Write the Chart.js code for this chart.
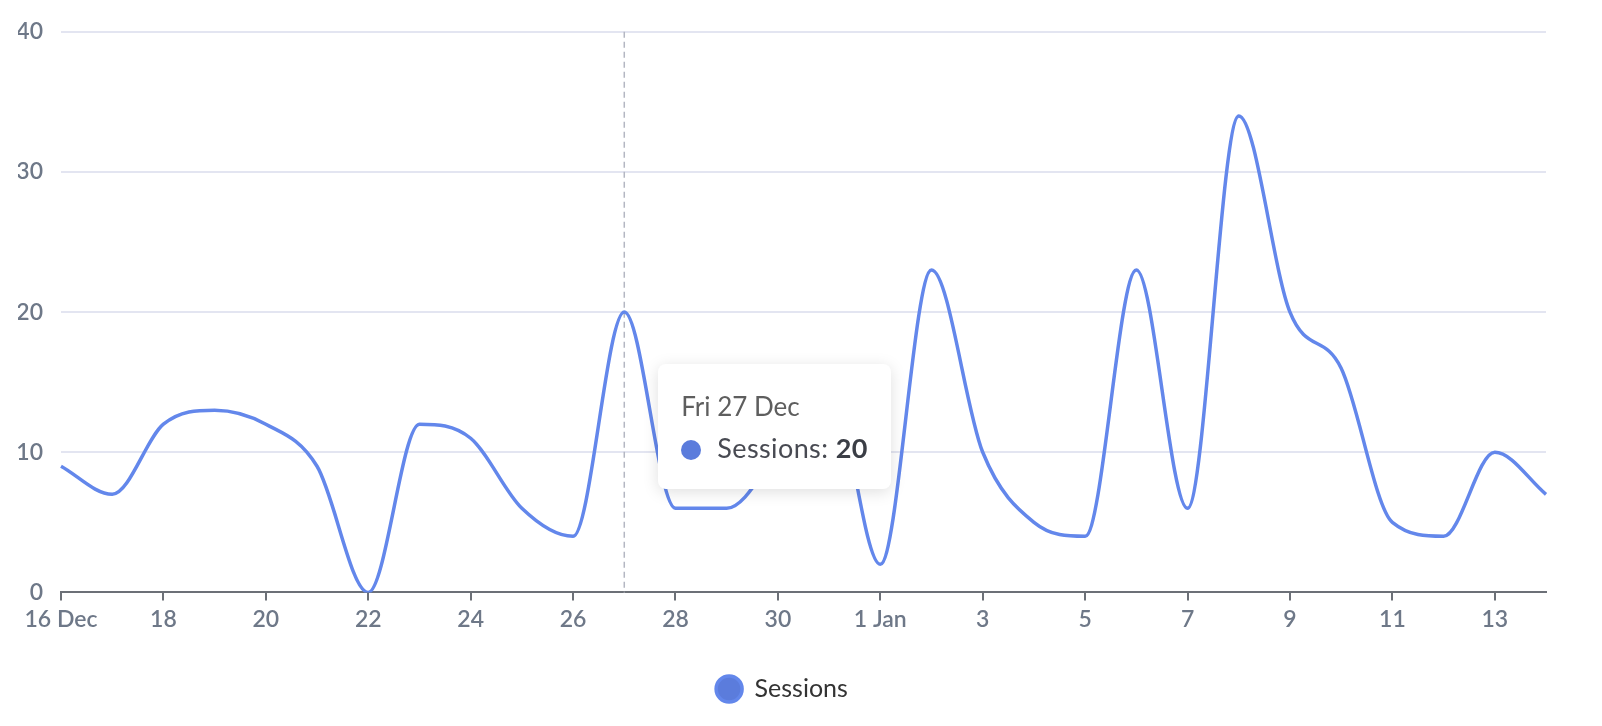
<!DOCTYPE html>
<html>
<head>
<meta charset="utf-8">
<script src="https://cdn.jsdelivr.net/npm/chart.js@4.4.1/dist/chart.umd.min.js"></script>
<style>
  html, body { margin: 0; padding: 0; background: #fff; }
  #wrap { position: relative; width: 1602px; height: 726px; }
  #tip {
    position: absolute; pointer-events: none; opacity: 0;
    background: #fff; border-radius: 8px;
    box-shadow: 0 3px 16px rgba(0, 0, 0, 0.13);
    padding: 26px 23px 25px 23px;
    font-family: Lato, sans-serif; white-space: nowrap;
  }
  #tip .t { font-size: 26px; line-height: 32px; color: #5e5e5e; margin-bottom: 10px; }
  #tip .b { font-size: 27px; line-height: 32px; color: #484a52; letter-spacing: 0.4px; }
  #tip .b i { display: inline-block; width: 20px; height: 20px; border-radius: 50%;
              margin-right: 16px; vertical-align: -2px; }
  #tip .b strong { color: #3b3e46; }
</style>
</head>
<body>
<div id="wrap">
  <canvas id="chart"></canvas>
  <div id="tip"></div>
</div>
<script>
// one entry per day, 16 Dec - 14 Jan
const days = [
  'Mon 16 Dec', 'Tue 17 Dec', 'Wed 18 Dec', 'Thu 19 Dec', 'Fri 20 Dec', 'Sat 21 Dec', 'Sun 22 Dec',
  'Mon 23 Dec', 'Tue 24 Dec', 'Wed 25 Dec', 'Thu 26 Dec', 'Fri 27 Dec', 'Sat 28 Dec', 'Sun 29 Dec',
  'Mon 30 Dec', 'Tue 31 Dec', 'Wed 1 Jan', 'Thu 2 Jan', 'Fri 3 Jan', 'Sat 4 Jan', 'Sun 5 Jan',
  'Mon 6 Jan', 'Tue 7 Jan', 'Wed 8 Jan', 'Thu 9 Jan', 'Fri 10 Jan', 'Sat 11 Jan', 'Sun 12 Jan',
  'Mon 13 Jan', 'Tue 14 Jan'
];

// axis labels (empty = no tick)
const tickLabels = [
  '16 Dec', '', '18', '', '20', '', '22', '', '24', '', '26', '', '28', '', '30', '',
  '1 Jan', '', '3', '', '5', '', '7', '', '9', '', '11', '', '13', ''
];

const sessions = [
  9, 7, 12, 13, 12, 9, 0, 12, 11, 6, 4, 20, 6, 6, 10, 15,
  2, 23, 10, 5, 4, 23, 6, 34, 20, 16, 5, 4, 10, 7
];

const yTicks = [0, 10, 20, 30, 40];

// hovered day shown in the picture
const activeIndex = 11;

const FONT = 'Lato, "Noto Sans", sans-serif';

// dashed line under the hovered point
const hoverLine = {
  id: 'hoverLine',
  beforeDatasetsDraw(chart) {
    const active = chart.tooltip.getActiveElements();
    if (!active.length) return;
    const x = active[0].element.x;
    const { top, bottom } = chart.chartArea;
    const ctx = chart.ctx;
    ctx.save();
    ctx.beginPath();
    ctx.setLineDash([6, 4]);
    ctx.lineWidth = 1.5;
    ctx.strokeStyle = '#b4b7c2';
    ctx.moveTo(x, top);
    ctx.lineTo(x, bottom);
    ctx.stroke();
    ctx.restore();
  }
};

function htmlTooltip(context) {
  const tip = document.getElementById('tip');
  const model = context.tooltip;
  if (model.opacity === 0 || !model.dataPoints || !model.dataPoints.length) {
    tip.style.opacity = 0;
    return;
  }
  const dp = model.dataPoints[0];
  const color = dp.dataset.backgroundColor;
  tip.innerHTML =
    '<div class="t">' + model.title[0] + '</div>' +
    '<div class="b"><i style="background:' + color + '"></i>' +
    dp.dataset.label + ': <strong>' + dp.formattedValue + '</strong></div>';
  tip.style.left = (model.caretX + 34) + 'px';
  tip.style.top = (model.caretY + 52) + 'px';
  tip.style.opacity = 1;
}

const ctx = document.getElementById('chart').getContext('2d');
const chart = new Chart(ctx, {
  type: 'line',
  data: {
    labels: days,
    datasets: [{
      label: 'Sessions',
      data: sessions,
      borderColor: '#6387eb',
      backgroundColor: '#5b7cdc',
      borderWidth: 3.5,
      cubicInterpolationMode: 'monotone',
      pointRadius: 0,
      pointHoverRadius: 0,
      fill: false
    }]
  },
  options: {
    responsive: true,
    maintainAspectRatio: false,
    animation: false,
    interaction: { mode: 'index', intersect: false },
    layout: { padding: { left: 18, right: 56, top: 27, bottom: 14 } },
    scales: {
      x: {
        grid: { drawOnChartArea: false, drawTicks: true, tickLength: 8, color: '#6c7077', lineWidth: 2 },
        border: { display: true, color: '#6c7077', width: 2 },
        ticks: {
          autoSkip: false,
          maxRotation: 0,
          padding: 5,
          color: '#6e7888',
          font: { family: FONT, size: 23, weight: '600' },
          callback: (value, index) => tickLabels[index] || null
        }
      },
      y: {
        min: yTicks[0],
        max: yTicks[yTicks.length - 1],
        afterBuildTicks: (scale) => { scale.ticks = yTicks.map(v => ({ value: v })); },
        afterFit: (scale) => { scale.width = 43; },
        grid: { color: '#e3e5f1', lineWidth: 2, drawTicks: false },
        border: { display: false },
        ticks: {
          padding: 18,
          color: '#6e7888',
          font: { family: FONT, size: 23, weight: '600' }
        }
      }
    },
    plugins: {
      legend: {
        position: 'bottom',
        labels: {
          boxWidth: 26,
          boxHeight: 26,
          useBorderRadius: true,
          borderRadius: 13,
          padding: 38,
          color: '#333333',
          font: { family: FONT, size: 25 }
        }
      },
      tooltip: {
        enabled: false,
        external: htmlTooltip
      }
    }
  },
  plugins: [hoverLine]
});

const pt = chart.getDatasetMeta(0).data[activeIndex];
chart.tooltip.setActiveElements([{ datasetIndex: 0, index: activeIndex }], { x: pt.x, y: pt.y });
chart.update();
</script>
</body>
</html>
